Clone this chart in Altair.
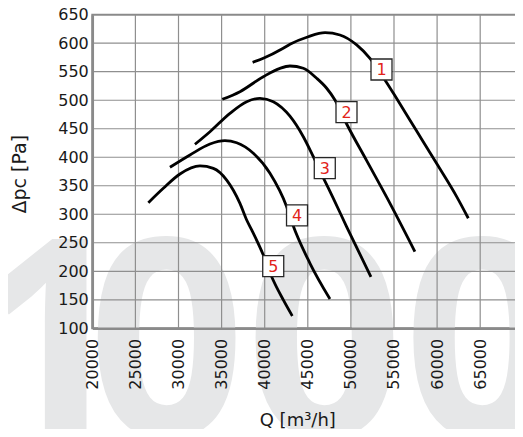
import altair as alt
import pandas as pd

# ---- data ----
q_ticks = [20000, 25000, 30000, 35000, 40000, 45000, 50000, 55000, 60000, 65000, 70000]
p_ticks = [100, 150, 200, 250, 300, 350, 400, 450, 500, 550, 600, 650]

c1_q = [38600, 39840, 42150, 42930, 45050, 47000, 48730, 50670, 52210, 53950, 55310, 57630, 59950, 62270, 63620]
c1_p = [566.5, 573.5, 591.0, 598.0, 611.4, 618.4, 614.4, 597.0, 573.5, 535.5, 503.0, 446.0, 389.0, 331.0, 293.0]

c2_q = [35080, 37130, 39840, 41770, 42930, 44480, 46030, 47190, 48150, 49510, 51830, 54150, 57430]
c2_p = [501.6, 515.0, 541.3, 556.0, 560.0, 556.0, 538.5, 521.0, 500.4, 458.3, 394.0, 330.0, 234.4]

c3_q = [31910, 33650, 35970, 37910, 39450, 41000, 42930, 44480, 45640, 46800, 47960, 49510, 52330]
c3_p = [422.7, 444.8, 477.0, 497.4, 503.4, 497.4, 472.0, 436.0, 401.0, 364.0, 328.0, 278.0, 190.0]

c4_q = [29010, 31330, 33650, 35390, 36750, 38680, 40610, 42550, 43250, 45250, 47570]
c4_p = [382.4, 404.0, 423.2, 429.0, 425.5, 407.0, 372.0, 313.3, 282.0, 214.0, 151.4]

c5_q = [26500, 28240, 30170, 32490, 34040, 35590, 37130, 37910, 38490, 39840, 40810, 42160, 43200]
c5_p = [320.3, 345.6, 370.6, 384.7, 380.6, 360.0, 319.2, 290.0, 272.5, 228.6, 190.5, 149.7, 121.6]

label_names = ["1", "2", "3", "4", "5"]
label_q = [53550, 49490, 46970, 43750, 40990]
label_p = [553.9, 479.0, 380.8, 297.9, 209.0]

watermark_lead = ["1"]
watermark_rest = ["000"]

# ---- tables ----
rows = []
for name, qs, ps in [("1", c1_q, c1_p), ("2", c2_q, c2_p), ("3", c3_q, c3_p),
                     ("4", c4_q, c4_p), ("5", c5_q, c5_p)]:
    for q, p in zip(qs, ps):
        rows.append({"curve": name, "Q": q, "P": p})
curves_df = pd.DataFrame(rows)
labels_df = pd.DataFrame({"name": label_names, "Q": label_q, "P": label_p})
gx_df = pd.DataFrame({"Q": q_ticks[1:-1]})
gy_df = pd.DataFrame({"P": p_ticks[1:-1]})

FONT = "DejaVu Sans"
GRID = "#8f8f8f"
DOMAIN = "#8a8a8a"
WM = "#e6e7e8"

xs = alt.Scale(domain=[20000, 70000], nice=False, zero=False)
ys = alt.Scale(domain=[100, 650], nice=False, zero=False)

x_axis = alt.Axis(values=q_ticks, format="d", labelAngle=270, grid=False, ticks=False,
                  labelPadding=10, labelFont=FONT, labelFontSize=16, labelColor="#1a1a1a",
                  domainColor=DOMAIN, domainWidth=2.5, title="Q [m³/h]",
                  titleFont=FONT, titleFontSize=18, titleFontWeight="normal",
                  titleColor="#1a1a1a", titleX=205, titleY=97.5, titleAlign="center",
                  titleBaseline="alphabetic", zindex=1, labelOverlap=False)
y_axis = alt.Axis(values=p_ticks, grid=False, ticks=False, labelPadding=4,
                  labelFont=FONT, labelFontSize=16, labelColor="#1a1a1a",
                  domainColor=DOMAIN, domainWidth=2.5, title="Δpc [Pa]",
                  titleFont=FONT, titleFontSize=19, titleFontWeight="normal",
                  titleColor="#1a1a1a", titleAngle=270, titleX=-66.6, titleY=159,
                  titleAlign="center", titleBaseline="alphabetic", zindex=1,
                  labelOverlap=False)


def X(f="Q"):
    return alt.X(f"{f}:Q", scale=xs, axis=x_axis)


def Y(f="P"):
    return alt.Y(f"{f}:Q", scale=ys, axis=y_axis)


wm_style = dict(font="Open Sans", fontWeight="bold", fontSize=276, color=WM,
                baseline="alphabetic")
wm1 = alt.Chart(pd.DataFrame({"t": watermark_lead})).mark_text(
    align="right", **wm_style
).encode(text="t:N", x=alt.value(38), y=alt.value(421.3))
wm2 = alt.Chart(pd.DataFrame({"t": watermark_rest})).mark_text(
    align="left", **wm_style
).encode(text="t:N", x=alt.value(-4.5), y=alt.value(421.3))

grid_x = alt.Chart(gx_df).mark_rule(color=GRID, strokeWidth=1.2).encode(x=X())
grid_y = alt.Chart(gy_df).mark_rule(color=GRID, strokeWidth=1.2).encode(y=Y())

curves = alt.Chart(curves_df).mark_line(
    color="black", strokeWidth=2.8, interpolate="monotone"
).encode(x=X(), y=Y(), detail="curve:N")

boxes = alt.Chart(labels_df).mark_point(
    shape="square", size=441, fill="white", stroke="#262626", strokeWidth=1.3,
    opacity=1, filled=True
).encode(x=X(), y=Y())

texts = alt.Chart(labels_df).mark_text(
    font=FONT, fontSize=16, color="#e2231a", align="center", baseline="middle", dy=1
).encode(x=X(), y=Y(), text="name:N")

chart = alt.layer(wm1, wm2, grid_x, grid_y, curves, boxes, texts).properties(
    width=431, height=313.6,
    autosize=alt.AutoSizeParams(type="none"),
    padding={"left": 84.3, "top": 6.7, "right": -8.5, "bottom": 100.5},
).configure_view(stroke=DOMAIN, strokeWidth=2)

chart.save("out.html", embed_options={"renderer": "svg", "actions": False})
